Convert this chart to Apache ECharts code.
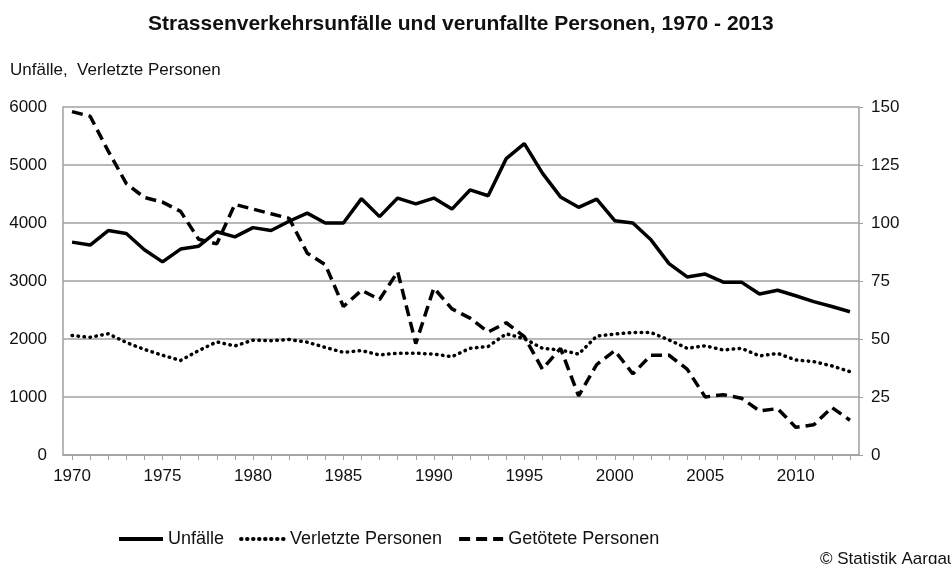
<!DOCTYPE html>
<html>
<head>
<meta charset="utf-8">
<script src="https://cdn.jsdelivr.net/npm/echarts@6/dist/echarts.min.js"></script>
<style>
	html, body { margin: 0; padding: 0; background: #fff; }
	#chart { width: 951px; height: 564px; }
</style>
</head>
<body>
<div id="chart"></div>
<script>
var years = []
for (var y = 1970; y <= 2013; y++) {
	years.push(String(y))
}

// Unfälle (linke Achse)
var unfaelle = [
	3670, 3620, 3870, 3820, 3540, 3330, 3550, 3600, 3850, 3760,
	3920, 3870, 4030, 4170, 4000, 4000, 4420, 4110, 4430, 4330,
	4430, 4240, 4570, 4470, 5110, 5370, 4860, 4450, 4270, 4410,
	4040, 4000, 3710, 3300, 3070, 3120, 2980, 2980, 2775, 2840,
	2745, 2645, 2560, 2470
]

// Verletzte Personen (linke Achse)
var verletzte = [
	2060, 2030, 2090, 1940, 1820, 1720, 1630, 1800, 1950, 1880,
	1980, 1970, 1990, 1945, 1855, 1770, 1800, 1725, 1755, 1755,
	1740, 1695, 1840, 1870, 2090, 2005, 1840, 1810, 1740, 2050,
	2085, 2112, 2112, 1983, 1840, 1882, 1810, 1840, 1708, 1752,
	1638, 1610, 1536, 1438
]

// Getötete Personen (rechte Achse)
var getoetete = [
	148, 146, 131, 117, 111, 109, 105, 93, 91, 108,
	106, 104, 102, 87, 82, 64, 71, 67, 79, 48,
	72, 63, 59, 53, 57, 51, 37, 46, 25.5, 39,
	45, 35, 43, 43, 37, 25, 26, 24.5, 19, 20,
	12, 13, 20.5, 15
]

var chart = echarts.init(document.getElementById('chart'))
var font = 'Liberation Sans, Arial, sans-serif'
var textColor = '#111'
var gray = '#a0a0a0'

function plain (v) {
	return String(v)
}

var option = {
	animation: false,
	backgroundColor: '#fff',
	textStyle: { fontFamily: font, color: textColor },
	title: [{
		text: 'Strassenverkehrsunfälle und verunfallte Personen, 1970 - 2013',
		left: 143,
		top: 9,
		textStyle: { fontFamily: font, fontSize: 21, fontWeight: 'bold', color: textColor }
	}, {
		text: 'Unfälle,  Verletzte Personen',
		left: 5,
		top: 57,
		textStyle: { fontFamily: font, fontSize: 17, fontWeight: 'normal', color: textColor }
	}, {
		text: '© Statistik Aargau',
		left: 815,
		top: 546,
		textStyle: { fontFamily: font, fontSize: 17, fontWeight: 'normal', color: textColor }
	}],
	legend: {
		left: 112,
		top: 525,
		itemWidth: 44,
		itemHeight: 14,
		itemGap: 15,
		itemStyle: { opacity: 0 },
		lineStyle: { width: 4 },
		textStyle: { fontFamily: font, fontSize: 18, color: textColor },
		data: ['Unfälle', 'Verletzte Personen', 'Getötete Personen']
	},
	grid: { left: 63, right: 92, top: 107, bottom: 109 },
	xAxis: {
		type: 'category',
		data: years,
		boundaryGap: true,
		axisLine: { lineStyle: { color: gray, width: 1.5 } },
		axisTick: { show: true, interval: 0, alignWithLabel: true, length: 5, lineStyle: { color: gray } },
		axisLabel: { interval: 4, fontSize: 17, color: textColor, margin: 13 }
	},
	yAxis: [{
		type: 'value',
		min: 0,
		max: 6000,
		interval: 1000,
		axisLine: { show: true, lineStyle: { color: gray, width: 1.5 } },
		axisTick: { show: false },
		splitLine: { lineStyle: { color: gray, width: 1.5 } },
		axisLabel: { fontSize: 17, color: textColor, margin: 16, formatter: plain }
	}, {
		type: 'value',
		min: 0,
		max: 150,
		interval: 25,
		position: 'right',
		axisLine: { show: true, lineStyle: { color: gray, width: 1.5 } },
		axisTick: { show: true, length: 4, lineStyle: { color: gray } },
		splitLine: { show: false },
		axisLabel: { fontSize: 17, color: textColor, margin: 12, formatter: plain }
	}],
	series: [{
		name: 'Unfälle',
		type: 'line',
		yAxisIndex: 0,
		data: unfaelle,
		showSymbol: false,
		symbol: 'none',
		lineStyle: { color: '#000', width: 3.5, type: 'solid' },
		itemStyle: { color: 'rgba(0,0,0,0)' }
	}, {
		name: 'Verletzte Personen',
		type: 'line',
		yAxisIndex: 0,
		data: verletzte,
		showSymbol: false,
		symbol: 'none',
		lineStyle: { color: '#000', width: 3.5, type: [0.5, 5.5], cap: 'round' },
		itemStyle: { color: 'rgba(0,0,0,0)' }
	}, {
		name: 'Getötete Personen',
		type: 'line',
		yAxisIndex: 1,
		data: getoetete,
		showSymbol: false,
		symbol: 'none',
		lineStyle: { color: '#000', width: 3.5, type: [11, 6] },
		itemStyle: { color: 'rgba(0,0,0,0)' }
	}]
}

chart.setOption(option)
</script>
</body>
</html>
